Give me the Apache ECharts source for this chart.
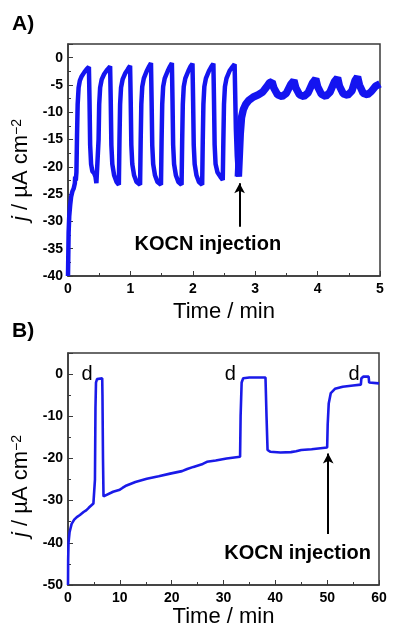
<!DOCTYPE html>
<html>
<head>
<meta charset="utf-8">
<script src="https://cdn.jsdelivr.net/npm/echarts@6/dist/echarts.min.js"></script>
<style>
html,body{margin:0;padding:0;background:#fff;}
#c{width:400px;height:644px;}
</style>
</head>
<body>
<div id="c"></div>
<script>
// Panel A: photocurrent before KOCN injection [time/min, j]
var seriesA_before = [
[0,-40],[0.005,-36],[0.01,-32],[0.02,-29],[0.035,-27],[0.05,-25.5],[0.07,-24.5],[0.09,-24],[0.11,-23],[0.115,-21.8],[0.125,-22.5],[0.135,-21],
[0.145,-14],[0.155,-8.5],[0.17,-5.5],[0.19,-4.2],[0.22,-3.4],[0.26,-2.7],[0.3,-2.1],[0.335,-1.7],
[0.345,-8],[0.355,-16],[0.37,-19.5],[0.39,-20.8],[0.42,-21.2],[0.44,-21.8],[0.455,-23],[0.48,-23.2],
[0.49,-15],[0.5,-8.5],[0.515,-5.5],[0.54,-4],[0.58,-3],[0.63,-2.2],[0.675,-1.6],
[0.685,-8],[0.695,-16],[0.71,-19.5],[0.74,-21.6],[0.78,-22.8],[0.815,-23.3],
[0.825,-15],[0.835,-8.5],[0.85,-5.5],[0.875,-4],[0.92,-2.8],[0.96,-2.1],[0.995,-1.5],
[1.005,-8],[1.015,-16],[1.03,-19.5],[1.06,-21.6],[1.1,-22.8],[1.155,-23.3],
[1.165,-15],[1.175,-8.5],[1.19,-5.3],[1.215,-3.8],[1.26,-2.5],[1.3,-1.6],[1.33,-1.0],
[1.34,-8],[1.35,-16],[1.365,-19.5],[1.395,-21.6],[1.435,-22.8],[1.49,-23.3],
[1.5,-15],[1.51,-8.5],[1.525,-5.3],[1.55,-3.8],[1.6,-2.4],[1.635,-1.6],[1.665,-1.0],
[1.675,-8],[1.685,-16],[1.7,-19.5],[1.73,-21.6],[1.77,-22.8],[1.82,-23.3],
[1.83,-15],[1.84,-8.5],[1.855,-5.3],[1.88,-3.8],[1.93,-2.4],[1.965,-1.6],[1.995,-1.1],
[2.005,-8],[2.015,-16],[2.03,-19.5],[2.06,-21.6],[2.1,-22.8],[2.15,-23.3],
[2.16,-15],[2.17,-8.5],[2.185,-5.3],[2.21,-3.8],[2.26,-2.4],[2.3,-1.6],[2.33,-1.1],
[2.34,-8],[2.35,-16],[2.365,-19.5],[2.395,-21],[2.44,-21.8],[2.48,-22.4],
[2.49,-15],[2.5,-8.5],[2.515,-5.3],[2.54,-3.8],[2.59,-2.4],[2.635,-1.7],[2.67,-1.2],
[2.68,-7],[2.69,-13],[2.705,-18],[2.72,-20.8],[2.73,-21.8]
];
// Panel A: after KOCN injection
var seriesA_after = [
[2.73,-21.8],[2.745,-18],[2.76,-14],[2.78,-11],[2.81,-9.5],[2.85,-8.5],[2.9,-7.8],[2.97,-7.2],[3.05,-6.8],[3.12,-6.3],[3.18,-5.4],[3.23,-4.6],[3.27,-4.4],
[3.3,-5.6],[3.36,-6.8],[3.43,-7.1],[3.5,-6.5],[3.57,-4.9],[3.62,-4.2],
[3.65,-5.5],[3.71,-6.8],[3.78,-7.1],[3.85,-6.4],[3.92,-4.6],[3.97,-3.9],
[4.0,-5.3],[4.06,-6.7],[4.13,-7.1],[4.2,-6.3],[4.27,-4.4],[4.32,-3.7],
[4.35,-5.2],[4.41,-6.6],[4.48,-6.9],[4.55,-6.1],[4.6,-4.2],[4.64,-3.5],
[4.67,-5],[4.73,-6.5],[4.8,-6.8],[4.86,-6.2],[4.93,-5.2],[5.0,-4.8]
];
// Panel B: current vs time
var seriesB = [
[0,-50],[0.03,-44],[0.1,-40],[0.3,-37.5],[0.7,-35.5],[1.2,-34.5],[1.7,-33.9],[2.3,-33.4],[3,-32.7],[3.5,-32.3],[4,-31.7],[4.9,-30.7],[5.1,-30.4],
[5.2,-25],[5.3,-8],[5.4,-2],[5.6,-1.2],[6.6,-1],[6.65,-5],[6.75,-20],[6.85,-29],[7.2,-29.1],[8.7,-27.9],[10,-27.4],[10.5,-27],[11.3,-26.4],[13,-25.6],[15.2,-24.8],[17.5,-24.2],[19.7,-23.6],[22,-23],[23,-22.5],[24.2,-22],[26,-21.3],[26.8,-20.8],[28.5,-20.5],[30.6,-20],[33.2,-19.6],
[33.3,-10],[33.5,-2],[33.8,-1],[35,-0.8],[38.1,-0.8],[38.3,-10],[38.5,-18],[39,-18.4],[41,-18.6],[43,-18.5],[44,-18.3],[45,-18],[47,-17.8],[50,-17.4],
[50.1,-12],[50.3,-7],[50.7,-4.5],[51.5,-3.5],[53,-3],[55,-2.7],[56.5,-2.5],[56.6,-1],[57,-0.6],[58,-0.6],[58.1,-2],[60,-2.2]
];
// Annotations
var injectionA = {x: 2.75, yFrom: -31, yTo: -23, textX: 2.24, textY: -34.3};
var injectionB = {x: 50.2, yFrom: -37.9, yTo: -18.8, textX: 44.3, textY: -42.6};
var dLabelsB = [[3.7, 0], [31.3, 0], [55.2, 0]];

var font = 'Liberation Sans, Arial, sans-serif';
var axisLineStyle = {color: '#3a3a3a', width: 1.5};

function xAxisCfg(gridIndex, min, max, interval, gap) {
  return {
    type: 'value', gridIndex: gridIndex, min: min, max: max, interval: interval,
    name: 'Time / min', nameLocation: 'middle', nameGap: gap,
    nameTextStyle: {fontSize: 22, color: '#000', fontFamily: font},
    axisLine: {show: true, onZero: false, lineStyle: axisLineStyle},
    axisTick: {show: true, inside: true, length: 5, lineStyle: {color: '#3a3a3a', width: 1}},
    minorTick: {show: true, splitNumber: 2, length: 3, lineStyle: {color: '#3a3a3a', width: 1}},
    axisLabel: {fontSize: 14, fontWeight: 'bold', color: '#000', fontFamily: font, margin: 6},
    splitLine: {show: false}
  };
}
function yAxisCfg(gridIndex, min, max, interval, padBottom) {
  return {
    type: 'value', gridIndex: gridIndex, min: min, max: max, interval: interval,
    name: '{i|j} / µA cm{sup|−2}', nameLocation: 'middle', nameGap: 30, nameRotate: 90,
    nameTextStyle: {
      fontSize: 22, color: '#000', fontFamily: font, padding: [0, padBottom, 0, 0],
      rich: {
        i: {fontSize: 22, fontStyle: 'italic', fontFamily: font, color: '#000'},
        sup: {fontSize: 14, fontFamily: font, color: '#000', verticalAlign: 'top', padding: [0, 0, 8, 0]}
      }
    },
    axisLine: {show: true, onZero: false, lineStyle: axisLineStyle},
    axisTick: {show: true, inside: true, length: 5, lineStyle: {color: '#3a3a3a', width: 1}},
    minorTick: {show: true, splitNumber: 2, length: 3, lineStyle: {color: '#3a3a3a', width: 1}},
    axisLabel: {fontSize: 14, fontWeight: 'bold', color: '#000', fontFamily: font, margin: 5,
      formatter: function (v) { return (v % interval === 0 && v <= 0) ? String(v) : ''; }},
    splitLine: {show: false}
  };
}
function arrowLine(a) {
  return {
    silent: true, symbol: ['none', 'arrow'], symbolSize: [8, 10],
    lineStyle: {color: '#000', width: 2, type: 'solid'}, label: {show: false},
    data: [[{coord: [a.x, a.yFrom]}, {coord: [a.x, a.yTo]}]]
  };
}
function textPoint(x, y, txt, size, weight) {
  return {
    coord: [x, y], symbol: 'rect', symbolSize: 0,
    label: {show: true, position: 'inside', formatter: txt, fontSize: size, fontWeight: weight, color: '#000', fontFamily: font}
  };
}

var chart = echarts.init(document.getElementById('c'), null, {renderer: 'canvas'});
chart.setOption({
  animation: false,
  backgroundColor: '#fff',
  grid: [
    {left: 68, top: 44, width: 312, height: 232, show: true, borderColor: '#3a3a3a', borderWidth: 1.5, backgroundColor: 'transparent'},
    {left: 68, top: 353, width: 311, height: 232, show: true, borderColor: '#3a3a3a', borderWidth: 1.5, backgroundColor: 'transparent'}
  ],
  xAxis: [xAxisCfg(0, 0, 5, 1, 25), xAxisCfg(1, 0, 60, 10, 18)],
  yAxis: [yAxisCfg(0, -40, 2.5, 5, 20), yAxisCfg(1, -50, 5, 10, 34)],
  graphic: [
    {type: 'text', left: 12, top: 14, style: {text: 'A)', fontSize: 21, fontWeight: 'bold', fill: '#000', fontFamily: font}},
    {type: 'text', left: 12, top: 321, style: {text: 'B)', fontSize: 21, fontWeight: 'bold', fill: '#000', fontFamily: font}}
  ],
  series: [
    {type: 'line', xAxisIndex: 0, yAxisIndex: 0, data: seriesA_before, showSymbol: false, symbol: 'none',
     lineStyle: {color: '#1414f0', width: 4.5}, clip: true,
     markLine: arrowLine(injectionA),
     markPoint: {silent: true, data: [textPoint(injectionA.textX, injectionA.textY, 'KOCN injection', 20, 'bold')]}},
    {type: 'line', xAxisIndex: 0, yAxisIndex: 0, data: seriesA_after, showSymbol: false, symbol: 'none',
     lineStyle: {color: '#1414f0', width: 7.5}, clip: true},
    {type: 'line', xAxisIndex: 1, yAxisIndex: 1, data: seriesB, showSymbol: false, symbol: 'none',
     lineStyle: {color: '#1a1ae8', width: 2.6}, clip: true,
     markLine: arrowLine(injectionB),
     markPoint: {silent: true, data: [
       textPoint(injectionB.textX, injectionB.textY, 'KOCN injection', 20, 'bold'),
       textPoint(dLabelsB[0][0], dLabelsB[0][1], 'd', 20, 'normal'),
       textPoint(dLabelsB[1][0], dLabelsB[1][1], 'd', 20, 'normal'),
       textPoint(dLabelsB[2][0], dLabelsB[2][1], 'd', 20, 'normal')
     ]}}
  ]
});
</script>
</body>
</html>
